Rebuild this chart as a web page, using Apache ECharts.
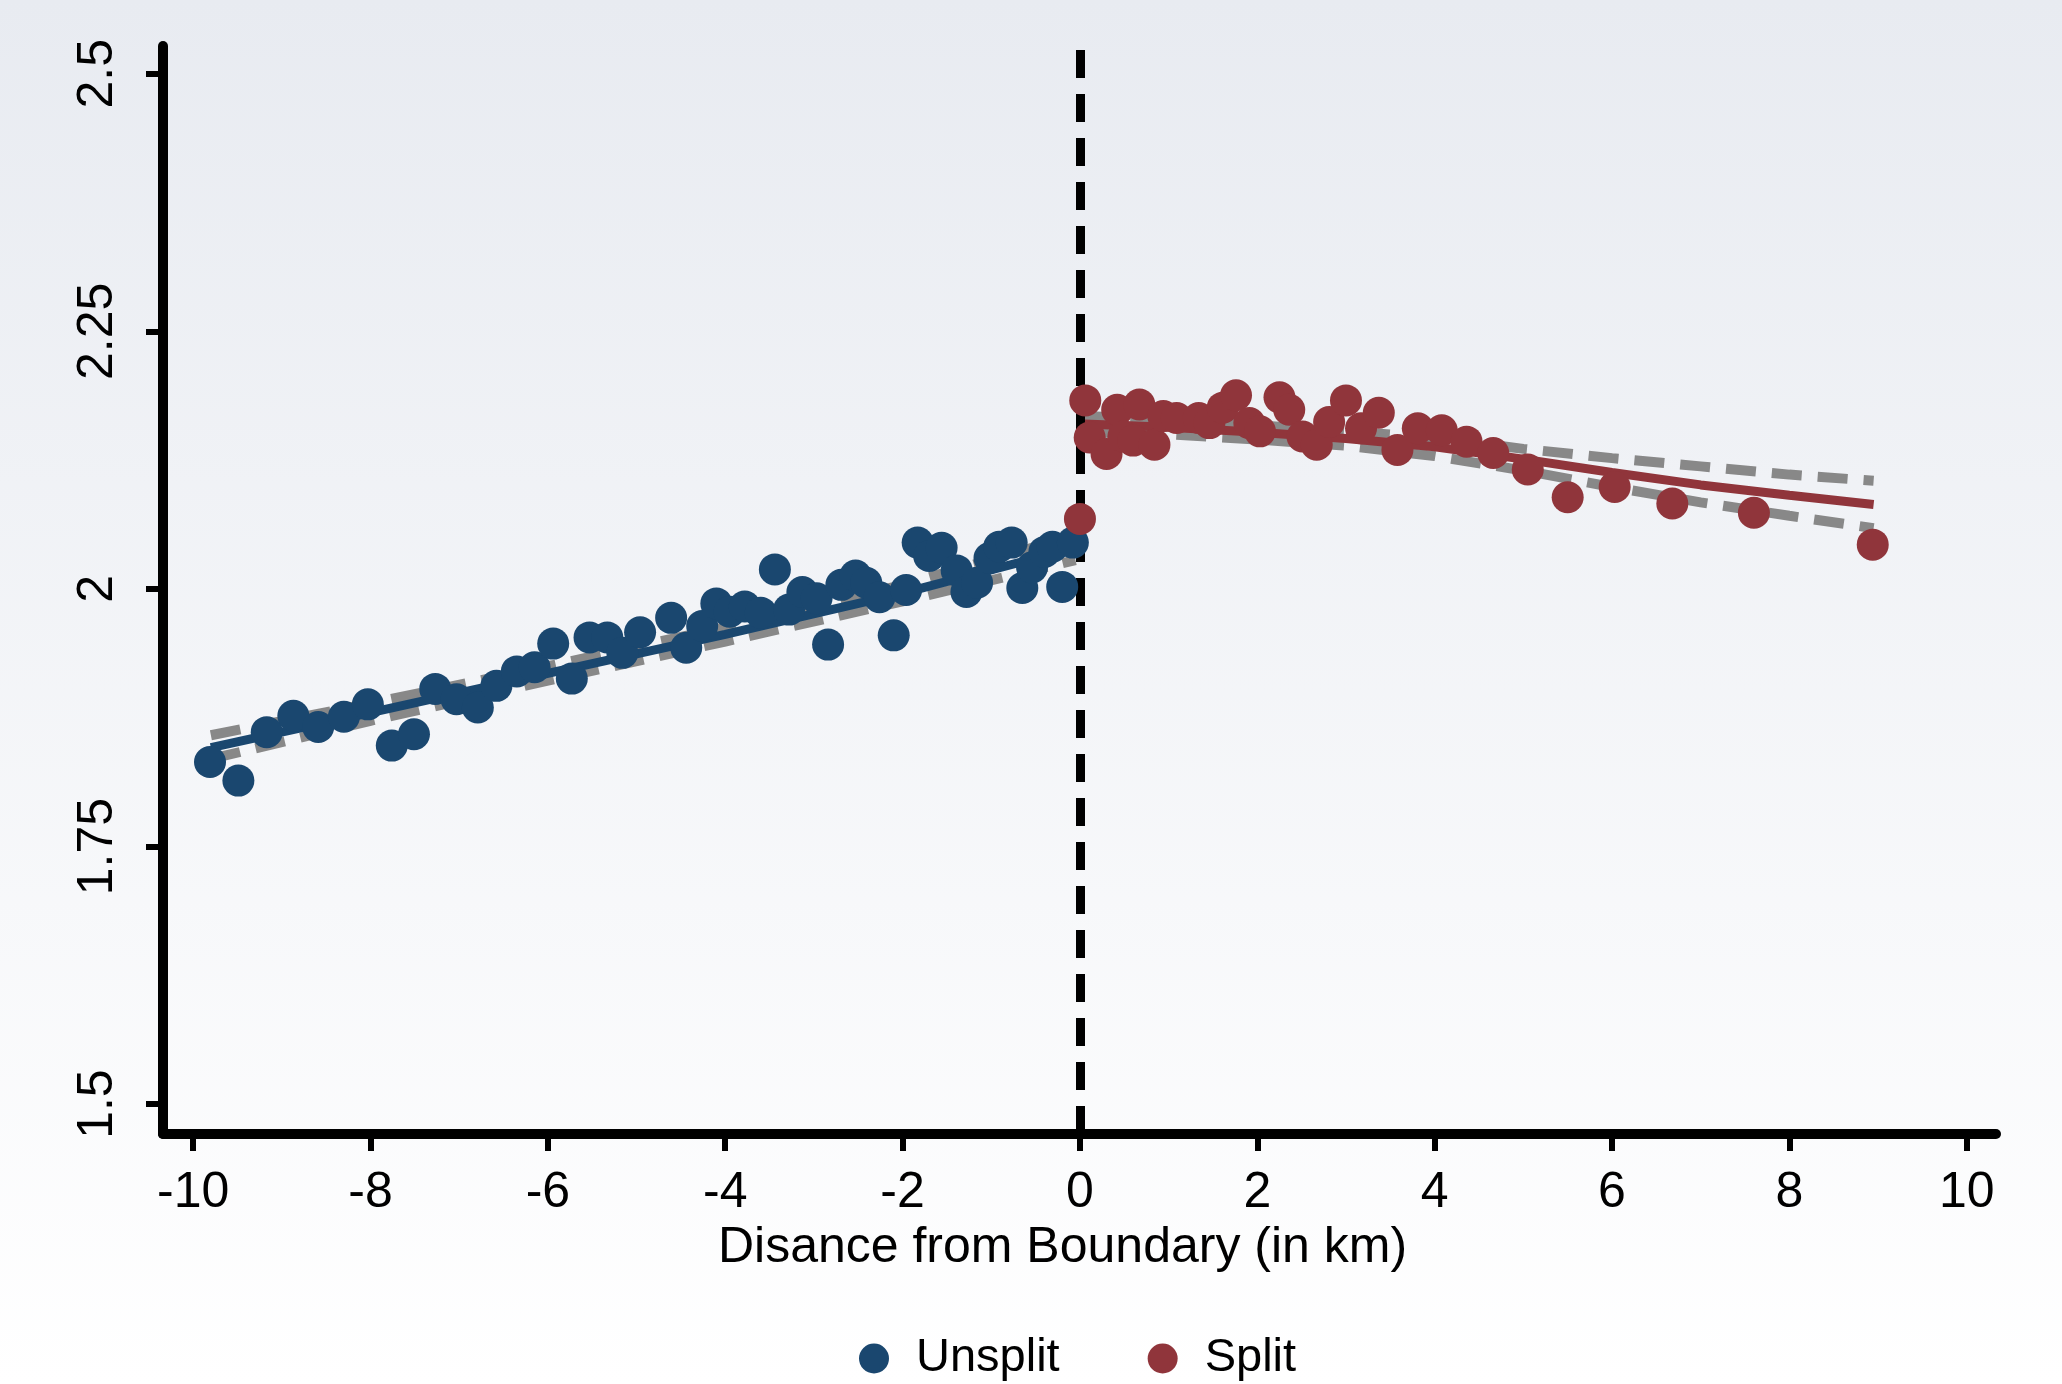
<!DOCTYPE html>
<html>
<head>
<meta charset="utf-8">
<script src="https://cdn.jsdelivr.net/npm/echarts@6/dist/echarts.min.js"></script>
<style>
html,body{margin:0;padding:0;}
#chart{width:2062px;height:1384px;}
</style>
</head>
<body>
<div id="chart"></div>
<script>
// ---- data ----
const boundary = 0;
const xTicks = [-10, -8, -6, -4, -2, 0, 2, 4, 6, 8, 10];
const xTickLabels = ['-10', '-8', '-6', '-4', '-2', '0', '2', '4', '6', '8', '10'];
const yTicks = [1.5, 1.75, 2, 2.25, 2.5];
const yTickLabels = ['1.5', '1.75', '2', '2.25', '2.5'];
const seriesNames = ['Unsplit', 'Split'];

const unsplitX = [-9.81, -9.49, -9.17, -8.87, -8.59, -8.30, -8.03, -7.76, -7.51, -7.27, -7.03, -6.79, -6.58, -6.35, -6.15, -5.94, -5.73, -5.53, -5.33, -5.16, -4.96, -4.61, -4.44, -4.26, -4.10, -3.95, -3.78, -3.60, -3.44, -3.28, -3.13, -2.97, -2.84, -2.69, -2.53, -2.41, -2.26, -2.10, -1.96, -1.83, -1.70, -1.56, -1.39, -1.28, -1.16, -1.02, -0.91, -0.77, -0.65, -0.54, -0.40, -0.31, -0.20, -0.08];
const unsplitY = [1.832, 1.814, 1.861, 1.877, 1.866, 1.876, 1.888, 1.848, 1.859, 1.903, 1.893, 1.885, 1.906, 1.920, 1.924, 1.947, 1.913, 1.953, 1.953, 1.938, 1.958, 1.972, 1.943, 1.964, 1.986, 1.978, 1.983, 1.977, 2.019, 1.980, 1.997, 1.991, 1.946, 2.004, 2.013, 2.006, 1.992, 1.955, 1.999, 2.045, 2.032, 2.040, 2.018, 1.997, 2.006, 2.030, 2.041, 2.045, 2.001, 2.021, 2.036, 2.041, 2.002, 2.045];

const splitX = [0.00, 0.06, 0.11, 0.30, 0.42, 0.49, 0.60, 0.67, 0.84, 0.94, 1.09, 1.34, 1.46, 1.61, 1.76, 1.91, 2.03, 2.25, 2.36, 2.51, 2.67, 2.81, 3.00, 3.17, 3.37, 3.58, 3.81, 4.08, 4.36, 4.66, 5.05, 5.50, 6.03, 6.68, 7.60, 8.94];
const splitY = [2.068, 2.183, 2.147, 2.131, 2.174, 2.148, 2.144, 2.179, 2.140, 2.168, 2.166, 2.166, 2.161, 2.176, 2.188, 2.161, 2.153, 2.186, 2.174, 2.148, 2.140, 2.162, 2.183, 2.156, 2.171, 2.135, 2.156, 2.154, 2.143, 2.132, 2.116, 2.089, 2.099, 2.083, 2.074, 2.043];

const unsplitFitX = [-9.8, -8, -6, -4, -2, -0.05];
const unsplitFit = [1.846, 1.880, 1.918, 1.956, 1.996, 2.040];
const unsplitLo = [1.835, 1.872, 1.911, 1.949, 1.988, 2.028];
const unsplitHi = [1.858, 1.889, 1.925, 1.963, 2.004, 2.052];

const splitFitX = [0.05, 1, 2, 3, 4, 5, 6, 7, 8, 8.95];
const splitFit = [2.160, 2.157, 2.152, 2.146, 2.138, 2.126, 2.113, 2.101, 2.091, 2.082];
const splitHi = [2.168, 2.164, 2.159, 2.153, 2.147, 2.136, 2.127, 2.119, 2.111, 2.105];
const splitLo = [2.152, 2.150, 2.145, 2.139, 2.129, 2.115, 2.099, 2.084, 2.071, 2.059];

// ---- build ----
const zip = (xs, ys) => xs.map((x, i) => [x, ys[i]]);
const BLUE = '#1a476f', RED = '#90353b', GRAY = '#888888';
const FONT = 'Liberation Sans, Arial, sans-serif';

function ciLine(data) {
  return {
    type: 'line', data: data, showSymbol: false, symbol: 'none', z: 2,
    lineStyle: { color: GRAY, width: 10, type: [30, 16] }, silent: true
  };
}
function fitLine(data, color) {
  return {
    type: 'line', data: data, showSymbol: false, symbol: 'none', z: 3,
    lineStyle: { color: color, width: 9 }, silent: true
  };
}

const chart = echarts.init(document.getElementById('chart'), null, { renderer: 'canvas' });
chart.setOption({
  animation: false,
  backgroundColor: {
    type: 'linear', x: 0, y: 0, x2: 0, y2: 1,
    colorStops: [{ offset: 0, color: '#e8ebf1' }, { offset: 1, color: '#ffffff' }]
  },
  textStyle: { fontFamily: FONT },
  grid: { left: 163, right: 66, top: 46, bottom: 250 },
  legend: {
    data: seriesNames.map(n => ({ name: n, icon: 'circle' })),
    left: 854, top: 1330,
    itemWidth: 30, itemHeight: 30, itemGap: 88,
    textStyle: { fontSize: 47, color: '#000', fontFamily: FONT, padding: [0, 0, 0, 22] }
  },
  xAxis: {
    type: 'value', min: -10.34, max: 10.33,
    name: 'Disance from Boundary (in km)', nameLocation: 'middle', nameGap: 85,
    nameTextStyle: { fontSize: 50, color: '#000', fontFamily: FONT, padding: [0, 34, 0, 0] },
    axisLine: { show: true, onZero: false, lineStyle: { color: '#000', width: 10 } },
    axisTick: { show: true, length: 17, lineStyle: { color: '#000', width: 6 }, customValues: xTicks },
    axisLabel: {
      fontSize: 50, color: '#000', margin: 34, fontFamily: FONT, customValues: xTicks,
      formatter: v => xTickLabels[xTicks.indexOf(v)] ?? String(v)
    },
    splitLine: { show: false }
  },
  yAxis: {
    type: 'value', min: 1.471, max: 2.527,
    axisLine: { show: true, onZero: false, lineStyle: { color: '#000', width: 10 } },
    axisTick: { show: true, length: 17, lineStyle: { color: '#000', width: 6 }, customValues: yTicks },
    axisLabel: {
      fontSize: 50, color: '#000', margin: 40, rotate: 90, fontFamily: FONT, customValues: yTicks,
      formatter: v => yTickLabels[yTicks.indexOf(v)] ?? String(v)
    },
    splitLine: { show: false }
  },
  series: [
    ciLine(zip(unsplitFitX, unsplitLo)),
    ciLine(zip(unsplitFitX, unsplitHi)),
    ciLine(zip(splitFitX, splitLo)),
    ciLine(zip(splitFitX, splitHi)),
    fitLine(zip(unsplitFitX, unsplitFit), BLUE),
    fitLine(zip(splitFitX, splitFit), RED),
    {
      name: 'Unsplit', type: 'scatter', data: zip(unsplitX, unsplitY), z: 5,
      symbol: 'circle', symbolSize: 32, itemStyle: { color: BLUE, opacity: 1 },
      markLine: {
        silent: true, symbol: 'none', label: { show: false },
        lineStyle: { color: '#000', width: 9, type: [28, 16] },
        data: [{ xAxis: boundary }]
      }
    },
    {
      name: 'Split', type: 'scatter', data: zip(splitX, splitY), z: 6,
      symbol: 'circle', symbolSize: 32, itemStyle: { color: RED, opacity: 1 }
    }
  ]
});
</script>
</body>
</html>
